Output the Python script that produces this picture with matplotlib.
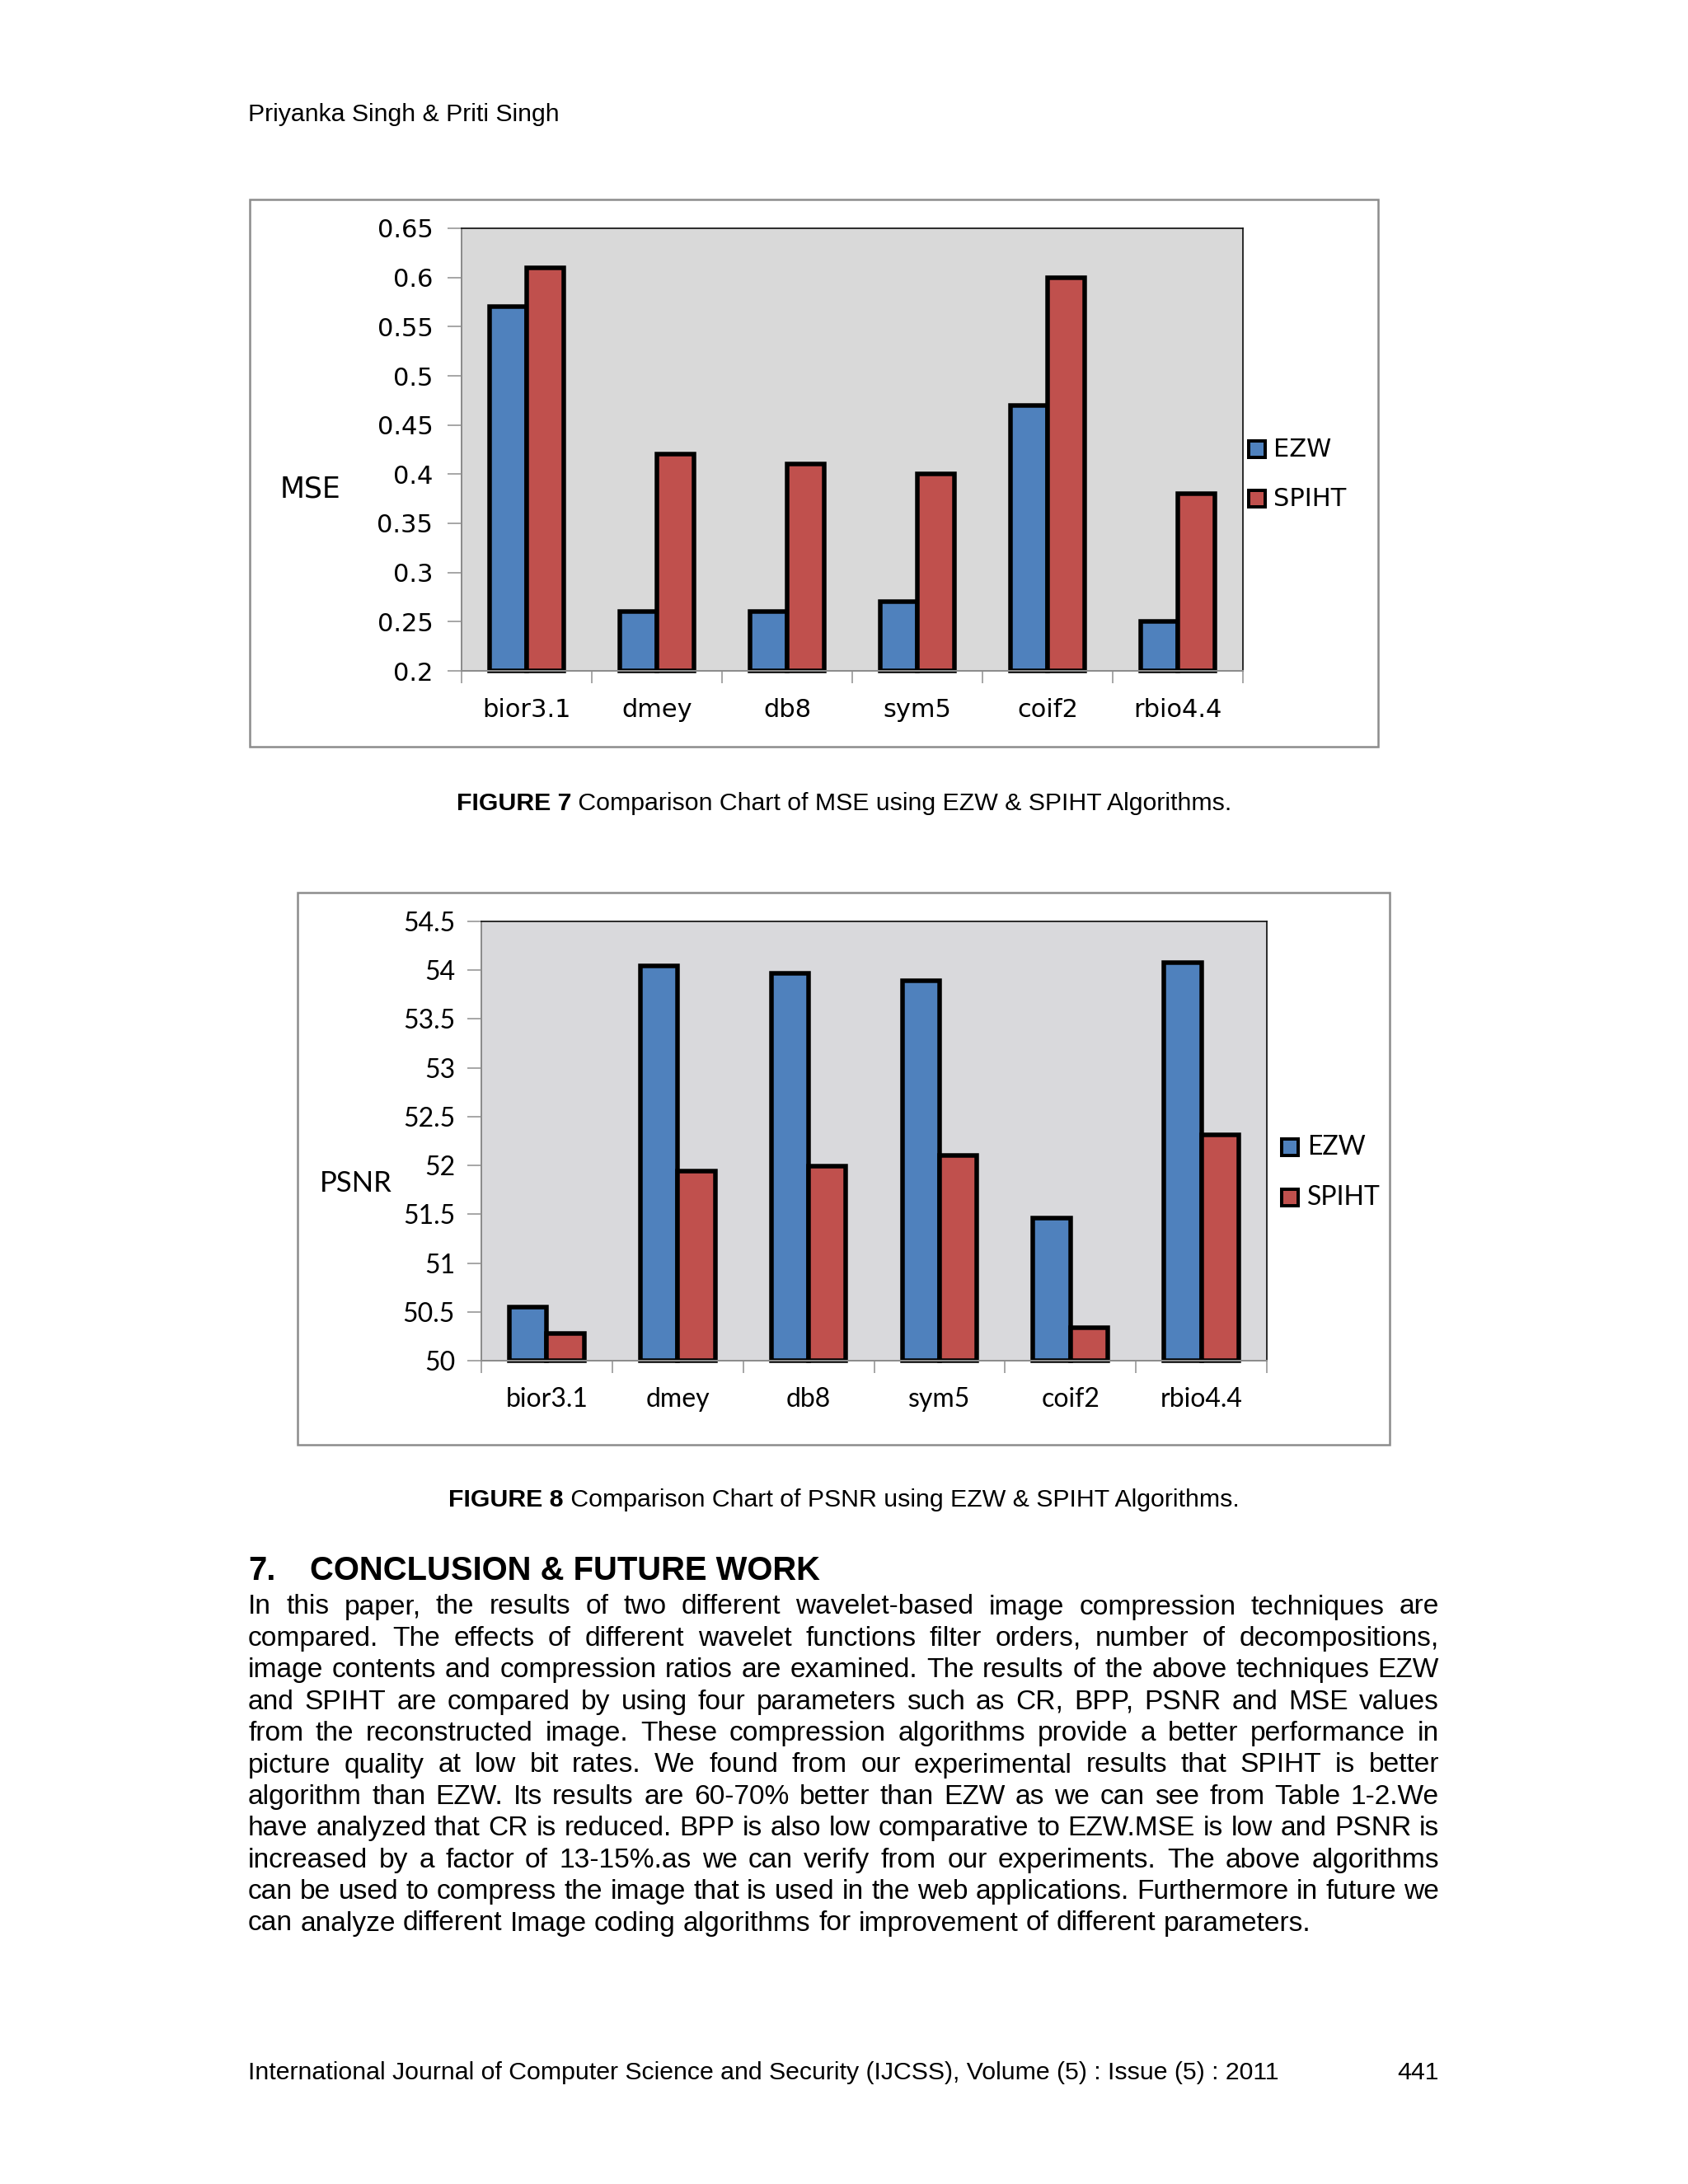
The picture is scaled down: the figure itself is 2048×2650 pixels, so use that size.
#!/usr/bin/env python3
"""
Page with Figure 7 (MSE) and Figure 8 (PSNR): EZW vs SPIHT
"""

import matplotlib
matplotlib.use('Agg')
import matplotlib.pyplot as plt
import numpy as np
from matplotlib.patches import Rectangle
from matplotlib.font_manager import FontProperties

# ============================================================================
# DATA
# ============================================================================
categories = ['bior3.1', 'dmey', 'db8', 'sym5', 'coif2', 'rbio4.4']
series_names = ['EZW', 'SPIHT']

mse_ezw = [0.57, 0.26, 0.26, 0.27, 0.47, 0.25]
mse_spiht = [0.61, 0.42, 0.41, 0.40, 0.60, 0.38]
mse_ticks = [0.2, 0.25, 0.3, 0.35, 0.4, 0.45, 0.5, 0.55, 0.6, 0.65]

psnr_ezw = [50.55, 54.04, 53.97, 53.89, 51.46, 54.08]
psnr_spiht = [50.28, 51.94, 51.99, 52.10, 50.34, 52.31]
psnr_ticks = [50, 50.5, 51, 51.5, 52, 52.5, 53, 53.5, 54, 54.5]

header = "Priyanka Singh & Priti Singh"
caption7 = ("FIGURE 7", " Comparison Chart of MSE using EZW & SPIHT Algorithms.")
caption8 = ("FIGURE 8", " Comparison Chart of PSNR using EZW & SPIHT Algorithms.")
heading = ("7.", "CONCLUSION & FUTURE WORK")
body_lines = [
    "In this paper, the results of two different wavelet-based image compression techniques are",
    "compared. The effects of different wavelet functions filter orders, number of decompositions,",
    "image contents and compression ratios are examined. The results of the above techniques EZW",
    "and SPIHT are compared by using four parameters such as CR, BPP, PSNR and MSE values",
    "from the reconstructed image. These compression algorithms provide a better performance in",
    "picture quality at low bit rates. We found from our experimental results that SPIHT is better",
    "algorithm than EZW. Its results are 60-70% better than EZW as we can see from Table 1-2.We",
    "have analyzed that CR is reduced. BPP is also low comparative to EZW.MSE is low and PSNR is",
    "increased by a factor of 13-15%.as we can verify from our experiments. The above algorithms",
    "can be used to compress the image that is used in the web applications. Furthermore in future we",
    "can analyze different Image coding algorithms for improvement of different parameters.",
]
footer = "International Journal of Computer Science and Security (IJCSS), Volume (5) : Issue (5) : 2011"
page_no = "441"

# ============================================================================
# PAGE SETUP (pixel helpers)
# ============================================================================
W, H = 2048, 2650
fig = plt.figure(figsize=(W / 100, H / 100), dpi=100)
fig.patch.set_facecolor('white')
renderer = fig.canvas.get_renderer()


def fx(x):
    return x / W


def fy(y):
    return 1 - y / H


def pt(px):
    return px * 72 / 100


def text_w(s, fp):
    return renderer.get_text_width_height_descent(s, fp, ismath=False)[0]


BLUE = '#4F81BD'
RED = '#C0504D'
GRAY = '#8C8C8C'
PAGE_FONT = 'Liberation Sans'
LEFT, RIGHT = 301, 1746


def draw_chart(box, plot, ezw, spiht, ticks, ylabel, ylabel_xy, legend_xy,
               font, tick_size, label_size, bg, ypad, xpad):
    # outer chart frame
    bl, bt, br, bb = box
    fig.add_artist(Rectangle((fx(bl), fy(bb)), (br - bl) / W, (bb - bt) / H,
                             transform=fig.transFigure, fill=False,
                             ec=GRAY, lw=pt(2.5)))
    l, t, r, b = plot
    ax = fig.add_axes([fx(l), fy(b), (r - l) / W, (b - t) / H])
    ax.set_facecolor(bg)

    x = np.arange(len(categories))
    w = 1 / 3.5
    for vals, col, off in [(ezw, BLUE, -w / 2), (spiht, RED, w / 2)]:
        bars = ax.bar(x + off, np.array(vals) - ticks[0], w, bottom=ticks[0],
                      color=col, edgecolor='black', linewidth=pt(5.5))
        for bar in bars:
            bar.set_clip_on(False)

    ax.set_xlim(-0.5, len(categories) - 0.5)
    ax.set_ylim(ticks[0], ticks[-1])
    ax.set_yticks(ticks)
    ax.set_yticklabels([f'{v:g}' for v in ticks], fontfamily=font, fontsize=tick_size)
    ax.set_xticks(x)
    ax.set_xticklabels(categories, fontfamily=font, fontsize=tick_size)
    ax.set_xticks(np.arange(-0.5, len(categories)), minor=True)
    ax.tick_params(axis='x', which='major', length=0, pad=xpad)
    ax.tick_params(axis='x', which='minor', length=11, width=pt(1.5), color=GRAY, direction='out')
    ax.tick_params(axis='y', which='major', length=12, width=pt(1.5), color=GRAY,
                   direction='out', pad=ypad)
    for s in ['left', 'bottom']:
        ax.spines[s].set_color(GRAY)
        ax.spines[s].set_linewidth(pt(2))
    for s in ['top', 'right']:
        ax.spines[s].set_color('#1a1a1a')
        ax.spines[s].set_linewidth(pt(1.8))

    fig.text(fx(ylabel_xy[0]), fy(ylabel_xy[1]), ylabel, fontfamily=font,
             fontsize=label_size, ha='left', va='center')

    # legend
    mx, tx, ys = legend_xy
    for name, col, yc in zip(series_names, [BLUE, RED], ys):
        fig.add_artist(Rectangle((fx(mx), fy(yc + 10)), 20 / W, 20 / H,
                                 transform=fig.transFigure, fc=col,
                                 ec='black', lw=pt(4)))
        fig.text(fx(tx), fy(yc), name, fontfamily=font, fontsize=tick_size,
                 ha='left', va='center')
    return ax


# ============================================================================
# FIGURE 7 - MSE
# ============================================================================
draw_chart(box=(303, 242, 1672, 906), plot=(560, 277, 1508, 814),
           ezw=mse_ezw, spiht=mse_spiht, ticks=mse_ticks,
           ylabel='MSE', ylabel_xy=(340, 594), legend_xy=(1515, 1545, (545, 605)),
           font='DejaVu Sans', tick_size=22, label_size=25, bg='#D9D9D9',
           ypad=13, xpad=24)

# ============================================================================
# FIGURE 8 - PSNR
# ============================================================================
draw_chart(box=(361, 1083, 1686, 1753), plot=(584, 1118, 1537, 1651),
           ezw=psnr_ezw, spiht=psnr_spiht, ticks=psnr_ticks,
           ylabel='PSNR', ylabel_xy=(388, 1436), legend_xy=(1555, 1586, (1392, 1453)),
           font='Lato', tick_size=23, label_size=25, bg='#D9D9DC',
           ypad=11, xpad=23)

# ============================================================================
# PAGE TEXT
# ============================================================================
fp_reg = FontProperties(family=PAGE_FONT, size=24)
# fit body size so the last (unjustified) line matches the page
fp_reg.set_size(24 * 1288 / text_w(body_lines[-1], fp_reg))
size = fp_reg.get_size()
fp_small = FontProperties(family=PAGE_FONT, size=size * 0.905)
fp_small_bold = FontProperties(family=PAGE_FONT, size=size * 0.905, weight='bold')

fig.text(fx(LEFT), fy(139), header, fontproperties=fp_small, ha='left', va='center')


def caption(parts, yc):
    wb = text_w(parts[0], fp_small_bold)
    wr = text_w(parts[1], fp_small)
    x0 = 1024 - (wb + wr) / 2
    fig.text(fx(x0), fy(yc), parts[0], fontproperties=fp_small_bold, ha='left', va='center')
    fig.text(fx(x0 + wb), fy(yc), parts[1], fontproperties=fp_small, ha='left', va='center')


caption(caption7, 975)
caption(caption8, 1820)

fp_head = FontProperties(family=PAGE_FONT, size=28.8, weight='bold')
fig.text(fx(LEFT), fy(1906), heading[0], fontproperties=fp_head, ha='left', va='center')
fig.text(fx(376), fy(1906), heading[1], fontproperties=fp_head, ha='left', va='center')

# justified body text
line_y0, line_step = 1950, 38.4
for i, line in enumerate(body_lines):
    yc = line_y0 + i * line_step
    words = line.split(' ')
    widths = [text_w(wd, fp_reg) for wd in words]
    if i == len(body_lines) - 1:
        gap = text_w('a a', fp_reg) - text_w('aa', fp_reg)
    else:
        gap = (RIGHT - LEFT - sum(widths)) / (len(words) - 1)
    xcur = LEFT
    for wd, wdt in zip(words, widths):
        fig.text(fx(xcur), fy(yc), wd, fontproperties=fp_reg, ha='left', va='center')
        xcur += wdt + gap

fig.text(fx(LEFT), fy(2515), footer, fontproperties=fp_small, ha='left', va='center')
fig.text(fx(RIGHT), fy(2515), page_no, fontproperties=fp_small, ha='right', va='center')

plt.savefig('out.png', dpi=100, facecolor='white')
print("saved out.png")
